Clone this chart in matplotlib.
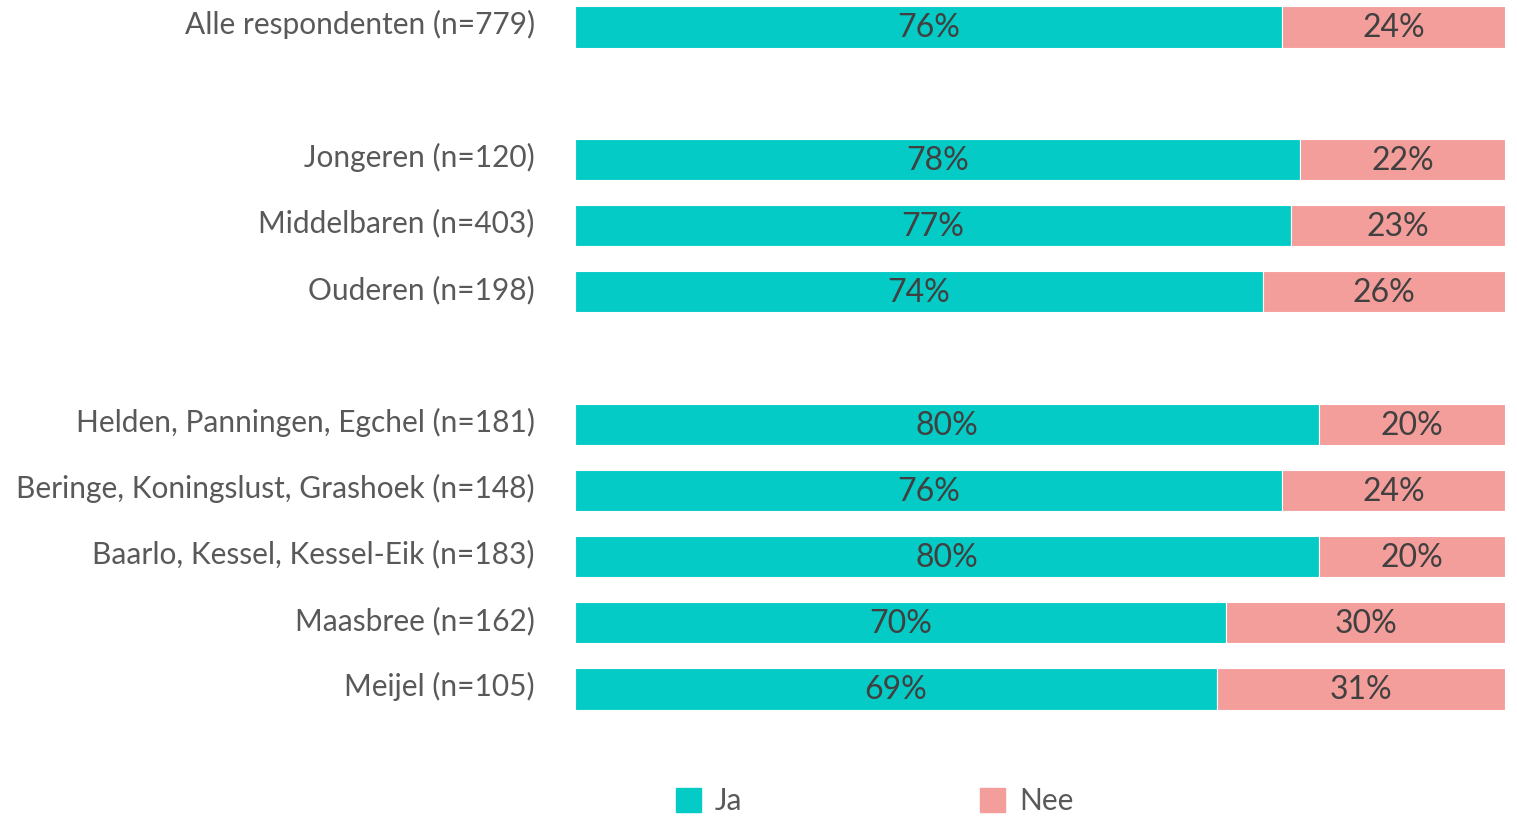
import numpy as np
import matplotlib.pyplot as plt
from matplotlib.patches import Patch

plt.rcParams['font.family'] = ['Lato', 'DejaVu Sans']

labels = ["Alle respondenten (n=779)",
          "Jongeren (n=120)", "Middelbaren (n=403)", "Ouderen (n=198)",
          "Helden, Panningen, Egchel (n=181)", "Beringe, Koningslust, Grashoek (n=148)",
          "Baarlo, Kessel, Kessel-Eik (n=183)", "Maasbree (n=162)", "Meijel (n=105)"]
ja = np.array([76, 78, 77, 74, 80, 76, 80, 70, 69])
nee = np.array([24, 22, 23, 26, 20, 24, 20, 30, 31])
rows = np.array([0, 2, 3, 4, 6, 7, 8, 9, 10])

teal = "#05CBC7"
pink = "#F49E9B"
txt = "#404040"

fig = plt.figure(figsize=(15.17, 8.16), dpi=100)
ax = fig.add_axes([575 / 1517, 0, 930 / 1517, 1])

h = 0.62
ax.barh(rows, ja, height=h, color=teal, edgecolor="white", linewidth=0.8)
ax.barh(rows, nee, left=ja, height=h, color=pink, edgecolor="white", linewidth=0.8)

for r, a, b in zip(rows, ja, nee):
    ax.text(a / 2, r + 0.02, f"{a}%", ha="center", va="center", fontsize=23, color=txt)
    ax.text(a + b / 2, r + 0.02, f"{b}%", ha="center", va="center", fontsize=23, color=txt)

ax.set_xlim(0, 100)
ax.set_ylim((816 - 27) / 66.2, -27 / 66.2)
ax.set_yticks(rows - 0.07)
ax.set_yticklabels(labels, fontsize=21.5, color="#595959")
ax.tick_params(axis="y", length=0, pad=29)
ax.tick_params(axis="x", bottom=False, labelbottom=False)
for s in ax.spines.values():
    s.set_visible(False)

# legend, one entry each so they sit where the reference has them
for col, name, x0 in [(teal, "Ja", 676), (pink, "Nee", 980)]:
    fig.legend(handles=[Patch(color=col, label=name)], loc="center left",
               bbox_to_anchor=(x0 / 1517, 1 - 801 / 816), frameon=False,
               fontsize=21.5, labelcolor="#595959", borderpad=0, borderaxespad=0,
               handlelength=0.85, handleheight=0.85, handletextpad=0.45)

fig.savefig("out.png", dpi=100)
